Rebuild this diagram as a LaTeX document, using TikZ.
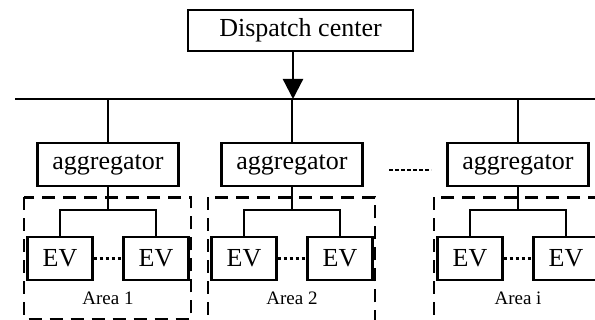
\documentclass[tikz,border=0pt]{standalone}
\usepackage{fontspec}
\setmainfont{Liberation Serif}
\usetikzlibrary{arrows.meta, positioning, calc}

\begin{document}
\begin{tikzpicture}[x=0.5pt, y=-0.5pt]
    % Define styles
    \tikzstyle{block} = [rectangle, draw, line width=1.15pt, minimum height=21.5pt, inner sep=0pt, font=\fontsize{13}{15}\selectfont]
    \tikzstyle{agg} = [block, minimum width=70.5pt]
    \tikzstyle{ev} = [block, minimum width=32.5pt]
    \tikzstyle{area} = [draw, line width=1.2pt, dash pattern=on 6.5pt off 4pt]
    \tikzstyle{line} = [draw, line width=1.15pt]
    \tikzstyle{dots} = [draw, line width=1.15pt, dash pattern=on 1.8pt off 1.2pt]

    \clip (0,0) rectangle (595,320);

    % Dispatch center feeding the bus
    \node[block, minimum width=112.5pt, minimum height=20.5pt] (disp) at (300.5,30.5) {Dispatch center};
    \coordinate (busL) at (15,99);
    \coordinate (busR) at (600,99);
    \coordinate (feed) at (293,99);
    \draw[line] (busL) -- (busR);
    \draw[line, -{Triangle[length=10pt, width=10pt]}] (disp.south -| feed) -- (feed);

    % One aggregator per area, each with two EVs
    \foreach \n/\x/\lbl/\bot in {1/108/1/319, 2/292/2/324, 3/518/i/324} {
        \node[agg] (agg\n) at (\x,164.5) {aggregator};
        \draw[line] (agg\n.north |- busL) -- (agg\n.north);

        \draw[area] (\x-84,197.5) rectangle (\x+83,\bot);

        \node[ev] (evL\n) at (\x-48,258.5) {EV};
        \node[ev] (evR\n) at (\x+48,258.5) {EV};
        \coordinate (hub\n) at (\x,210);
        \draw[line] (agg\n.south) -- (hub\n);
        \draw[line] (evL\n.north) |- (hub\n) -| (evR\n.north);
        \draw[dots] (evL\n.east) -- (evR\n.west);

        \node[font=\fontsize{9.5}{11}\selectfont] (area\n) at (\x,298) {Area \lbl};
    }

    % Gap between aggregator 2 and aggregator i
    \coordinate (dotL) at (389,170);
    \coordinate (dotR) at (431,170);
    \draw[dots] (dotL) -- (dotR);
\end{tikzpicture}
\end{document}
